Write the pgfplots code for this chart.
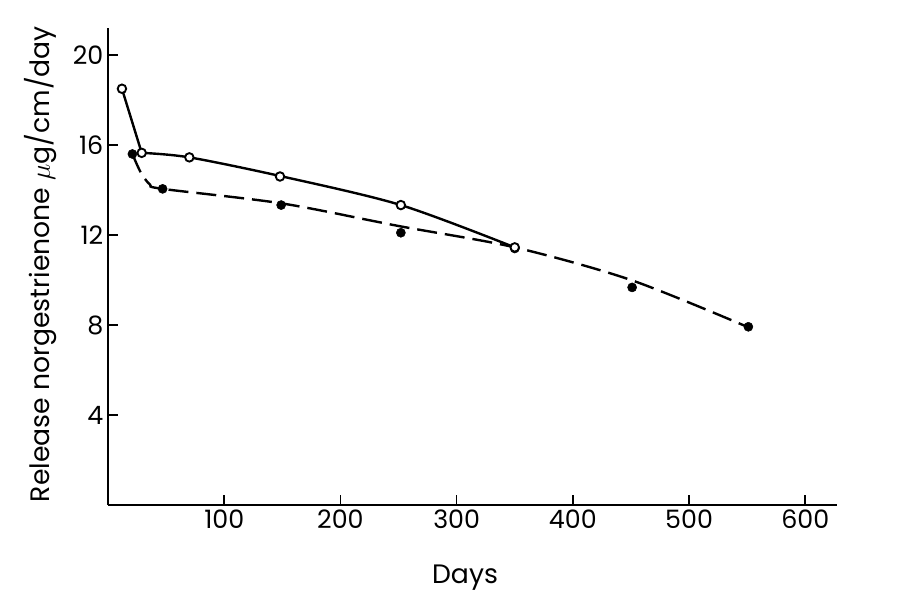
\documentclass[border=0pt]{standalone}
\usepackage{pgfplots}
\pgfplotsset{compat=1.18}
\usepackage{fontspec}
\setmainfont{Poppins}
\begin{document}
\begin{tikzpicture}
\useasboundingbox (-81pt,-75pt) rectangle (599.25pt,378.75pt);
\begin{axis}[
 scale only axis, width=546.5pt, height=357.75pt,
 xmin=0, xmax=627, ymin=0, ymax=21.2,
 axis x line=bottom, axis y line=left,
 axis line style={-, line width=1.4pt},
 xtick={100,200,...,600}, ytick={4,8,...,20},
 tick align=inside, major tick length=7.5pt,
 tick style={line width=1.2pt, black},
 /pgf/number format/assume math mode=true,
 tick label style={font=\fontsize{19}{21}\selectfont},
 label style={font=\fontsize{20}{24}\selectfont},
 xlabel={Days}, ylabel={Release norgestrienone $\mu$g/cm/day},
 xlabel style={at={(axis description cs:0.49,-0.153)}, anchor=center},
 ylabel style={at={(axis description cs:-0.092,0.505)}, anchor=center},
]
\addplot[line width=1.8pt, black] coordinates {(12,18.5)(29,15.65)};
\addplot[line width=1.8pt, black, smooth, tension=0.5] coordinates {(29,15.65)(70,15.45)(150,14.6)(252,13.33)(350,11.45)};
\addplot[line width=1.8pt, black, dash pattern=on 15pt off 6pt, smooth, tension=0.5] coordinates {(21,15.6)(28,14.8)(36,14.25)(47,14.05)(150,13.4)(250,12.4)(350,11.45)(450,10.0)(550,7.92)};
\addplot[only marks, mark=*, mark size=3.4pt, black] coordinates {(21,15.6)(47,14.05)(149,13.33)(252,12.1)(350,11.4)(451,9.67)(551,7.92)};
\addplot[only marks, mark=*, mark size=3.2pt, mark options={fill=white, draw=black, line width=1.4pt}] coordinates {(12,18.5)(29,15.65)(70,15.45)(148,14.6)(252,13.33)(350,11.45)};
\end{axis}
\end{tikzpicture}
\end{document}
